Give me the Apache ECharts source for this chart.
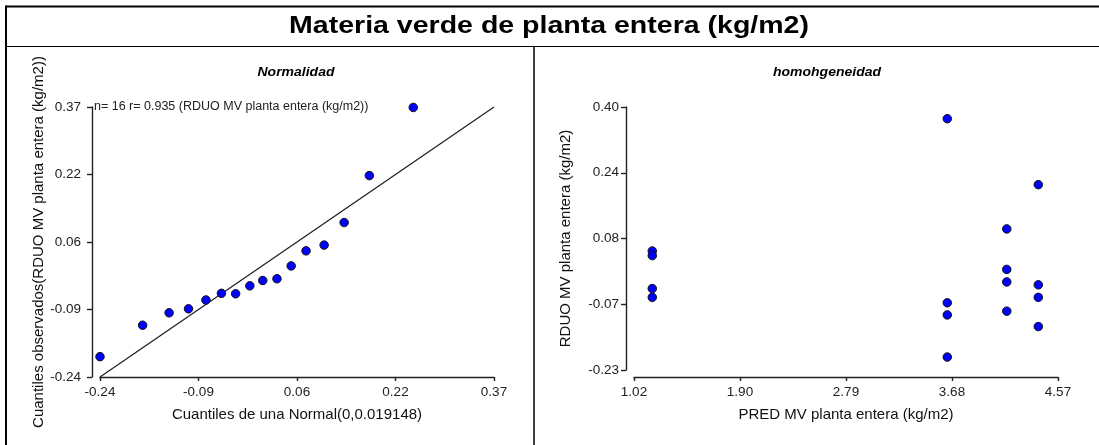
<!DOCTYPE html>
<html>
<head>
<meta charset="utf-8">
<script src="https://cdn.jsdelivr.net/npm/echarts@6/dist/echarts.min.js"></script>
<style>html,body{margin:0;padding:0;background:#fff}#c{width:1099px;height:445px}</style>
</head>
<body>
<div id="c"></div>
<script>
// ---- data ----
var mainTitle = 'Materia verde de planta entera (kg/m2)';
var leftTitle = 'Normalidad';
var rightTitle = 'homohgeneidad';
var leftNote = 'n= 16 r= 0.935 (RDUO MV planta entera (kg/m2))';

// Normal Q-Q plot: theoretical quantiles (x) and observed quantiles (y)
var qqX = [-0.240, -0.174, -0.133, -0.103, -0.076, -0.052, -0.030, -0.008, 0.012, 0.034, 0.056, 0.079, 0.107, 0.138, 0.177, 0.245];
var qqY = [-0.194, -0.123, -0.095, -0.086, -0.066, -0.051, -0.052, -0.034, -0.022, -0.018, 0.011, 0.045, 0.058, 0.109, 0.215, 0.369];
var refLineX = [-0.24, 0.37];
var refLineY = [-0.24, 0.37];
var leftXTicks = ['-0.24', '-0.09', '0.06', '0.22', '0.37'];
var leftYTicks = ['-0.24', '-0.09', '0.06', '0.22', '0.37'];
var leftXRange = [-0.24, 0.37];
var leftYRange = [-0.24, 0.37];

// Residuals vs predicted
var predX = [1.173, 1.173, 1.173, 1.173, 3.643, 3.643, 3.643, 3.643, 4.141, 4.141, 4.141, 4.141, 4.405, 4.405, 4.405, 4.405];
var residY = [0.055, 0.044, -0.035, -0.056, 0.372, -0.069, -0.098, -0.199, 0.108, 0.011, -0.019, -0.089, 0.214, -0.026, -0.056, -0.126];
var rightXTicks = ['1.02', '1.90', '2.79', '3.68', '4.57'];
var rightYTicks = ['-0.23', '-0.07', '0.08', '0.24', '0.40'];
var rightXRange = [1.02, 4.57];
var rightYRange = [-0.23, 0.40];

var leftXName = 'Cuantiles de una Normal(0,0.019148)';
var leftYName = 'Cuantiles observados(RDUO MV planta entera (kg/m2))';
var rightXName = 'PRED MV planta entera (kg/m2)';
var rightYName = 'RDUO MV planta entera (kg/m2)';

// ---- helpers ----
function tickVals(range, n) {
  var v = [];
  for (var i = 0; i < n; i++) v.push(range[0] + (range[1] - range[0]) * i / (n - 1));
  return v;
}
function labeler(range, labels) {
  var vals = tickVals(range, labels.length);
  return function (value) {
    var best = 0, d = Infinity;
    for (var i = 0; i < vals.length; i++) {
      var dd = Math.abs(vals[i] - value);
      if (dd < d) { d = dd; best = i; }
    }
    return labels[best];
  };
}
function zip(a, b) { return a.map(function (v, i) { return [v, b[i]]; }); }

var FONT = 'Liberation Sans, Arial, sans-serif';
var axisLine = { show: true, onZero: false, lineStyle: { color: '#222', width: 1.4 } };

function xAxis(grid, range, labels, name, offset) {
  return {
    type: 'value', gridIndex: grid, min: range[0], max: range[1], offset: offset,
    name: name, nameLocation: 'middle', nameGap: 30,
    nameTextStyle: { fontFamily: FONT, fontSize: 15, color: '#111' },
    axisLine: axisLine,
    axisTick: { show: true, length: 4, inside: false, customValues: tickVals(range, labels.length), lineStyle: { color: '#222', width: 1.4 } },
    axisLabel: { show: true, margin: 8, fontFamily: FONT, fontSize: 13.5, color: '#222', customValues: tickVals(range, labels.length), formatter: labeler(range, labels) },
    splitLine: { show: false }
  };
}
function yAxis(grid, range, labels, name, offset, gap, margin) {
  return {
    type: 'value', gridIndex: grid, min: range[0], max: range[1], offset: offset,
    name: name, nameLocation: 'middle', nameGap: gap,
    nameTextStyle: { fontFamily: FONT, fontSize: 15, color: '#111' },
    axisLine: axisLine,
    axisTick: { show: true, length: 5, inside: false, customValues: tickVals(range, labels.length), lineStyle: { color: '#222', width: 1.4 } },
    axisLabel: { show: true, margin: margin, fontFamily: FONT, fontSize: 13.5, color: '#222', customValues: tickVals(range, labels.length), formatter: labeler(range, labels) },
    splitLine: { show: false }
  };
}

var chart = echarts.init(document.getElementById('c'), null, { renderer: 'canvas' });
var dotStyle = { color: '#0000ff', borderColor: '#111', borderWidth: 1, opacity: 1 };

chart.setOption({
  backgroundColor: '#fff',
  animation: false,
  grid: [
    { left: 100, top: 107, width: 394, height: 270 },
    { left: 634, top: 107, width: 424, height: 263 }
  ],
  xAxis: [
    xAxis(0, leftXRange, leftXTicks, leftXName, 0),
    xAxis(1, rightXRange, rightXTicks, rightXName, 7)
  ],
  yAxis: [
    yAxis(0, leftYRange, leftYTicks, leftYName, 8, 46, 11),
    yAxis(1, rightYRange, rightYTicks, rightYName, 8, 53, 7)
  ],
  series: [
    { type: 'line', xAxisIndex: 0, yAxisIndex: 0, data: zip(refLineX, refLineY), showSymbol: false, symbol: 'none', lineStyle: { color: '#222', width: 1.3 }, z: 2 },
    { type: 'scatter', xAxisIndex: 0, yAxisIndex: 0, data: zip(qqX, qqY), symbol: 'circle', symbolSize: 8.5, itemStyle: dotStyle, z: 3 },
    { type: 'scatter', xAxisIndex: 1, yAxisIndex: 1, data: zip(predX, residY), symbol: 'circle', symbolSize: 8.5, itemStyle: dotStyle, z: 3 }
  ],
  graphic: [
    { type: 'line', shape: { x1: 6, y1: 6.5, x2: 1099, y2: 6.5 }, style: { stroke: '#000', lineWidth: 2 } },
    { type: 'line', shape: { x1: 6, y1: 5.5, x2: 6, y2: 445 }, style: { stroke: '#000', lineWidth: 2 } },
    { type: 'line', shape: { x1: 6, y1: 46.5, x2: 1099, y2: 46.5 }, style: { stroke: '#000', lineWidth: 1.2 } },
    { type: 'line', shape: { x1: 534, y1: 46.5, x2: 534, y2: 445 }, style: { stroke: '#000', lineWidth: 1.5 } },
    { type: 'text', x: 549, y: 27, scaleX: 1.24, style: { text: mainTitle, font: 'bold 23px ' + FONT, fill: '#000', textAlign: 'center', textVerticalAlign: 'middle' } },
    { type: 'text', x: 296, y: 73, scaleX: 1.12, style: { text: leftTitle, font: 'italic bold 12.5px ' + FONT, fill: '#000', textAlign: 'center', textVerticalAlign: 'middle' } },
    { type: 'text', x: 827, y: 73, scaleX: 1.12, style: { text: rightTitle, font: 'italic bold 12.5px ' + FONT, fill: '#000', textAlign: 'center', textVerticalAlign: 'middle' } },
    { type: 'text', x: 94, y: 107, style: { text: leftNote, font: '12.5px ' + FONT, fill: '#222', textAlign: 'left', textVerticalAlign: 'middle' } }
  ]
});
</script>
</body>
</html>
